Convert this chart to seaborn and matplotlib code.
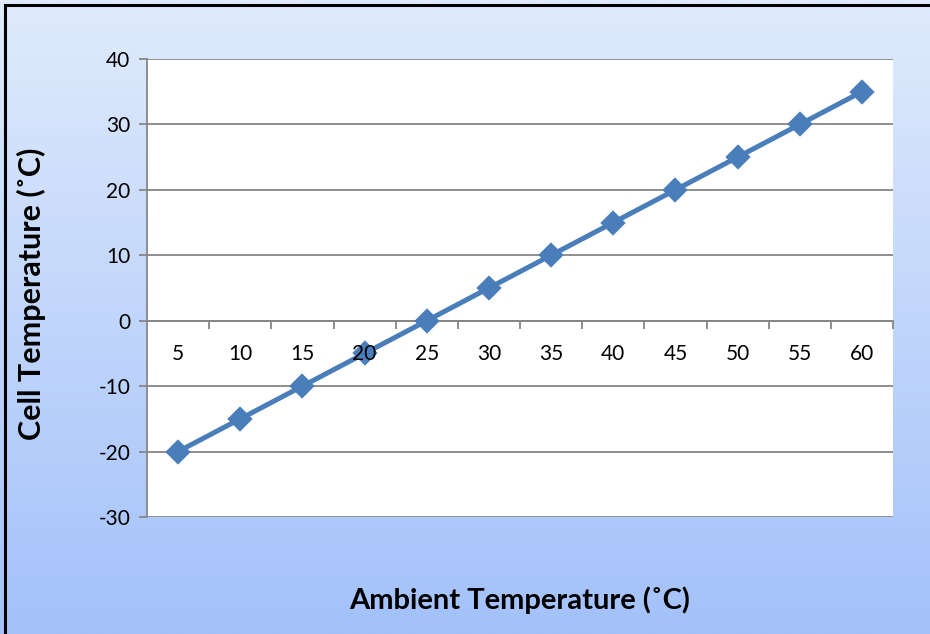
import numpy as np
import pandas as pd
import matplotlib
matplotlib.use("Agg")
import matplotlib.pyplot as plt
import seaborn as sns
from matplotlib.patches import Rectangle
from matplotlib.colors import LinearSegmentedColormap

ambient = ["5", "10", "15", "20", "25", "30", "35", "40", "45", "50", "55", "60"]
cell = [-20, -15, -10, -5, 0, 5, 10, 15, 20, 25, 30, 35]
y_ticks = [-30, -20, -10, 0, 10, 20, 30, 40]

sns.set_theme(style="white")
plt.rcParams["font.family"] = ["Lato", "DejaVu Sans"]
plt.rcParams["text.color"] = "black"

W, H = 930, 634
fig = plt.figure(figsize=(W / 100, H / 100), dpi=100)

# gradient background
bg = fig.add_axes([0, 0, 1, 1], zorder=0)
cmap = LinearSegmentedColormap.from_list("bg", ["#E0EBFC", "#A3C1FA"])
grad = np.linspace(0, 1, 256).reshape(-1, 1)
bg.imshow(grad, aspect="auto", cmap=cmap, extent=[0, 1, 0, 1], origin="upper")
bg.set_xlim(0, 1)
bg.set_ylim(0, 1)
bg.axis("off")
bg.add_patch(Rectangle((5 / W, -0.1), 1.2, 1 - 5 / H + 0.1, fill=False,
                       edgecolor="black", linewidth=2.2, transform=bg.transAxes))

ax = fig.add_axes([147 / W, 1 - 517 / H, (893 - 147) / W, (517 - 59) / H], zorder=1)
ax.set_facecolor("white")

df = pd.DataFrame({"Ambient": pd.Categorical(ambient, categories=ambient), "Cell": cell})
sns.pointplot(data=df, x="Ambient", y="Cell", ax=ax, color="#4A7EBB",
              markers="D", markersize=10.5, linewidth=3.6, errorbar=None)
for ln in ax.lines:
    ln.set_zorder(2)

ax.set_xlim(-0.5, len(ambient) - 0.5)
ax.set_ylim(-30, 40)
ax.set_yticks(y_ticks)
ax.set_yticklabels([str(v) for v in y_ticks], fontsize=15)
ax.yaxis.grid(True, color="#868686", linewidth=1.3)
ax.xaxis.grid(False)
ax.set_axisbelow(True)

for s in ["top", "right"]:
    ax.spines[s].set_visible(False)
ax.spines["left"].set_color("#868686")
ax.spines["left"].set_linewidth(1.3)
ax.spines["bottom"].set_position(("data", 0))
ax.spines["bottom"].set_color("#868686")
ax.spines["bottom"].set_linewidth(1.3)
ax.spines["bottom"].set_zorder(1.5)

ax.tick_params(axis="y", which="major", left=True, length=6, width=1.3,
               color="#868686", pad=6, labelcolor="black")
ax.set_xticks(range(len(ambient)))
ax.set_xticklabels(ambient, fontsize=15)
ax.set_xticks(np.arange(0.5, len(ambient), 1), minor=True)
ax.tick_params(axis="x", which="major", bottom=True, length=0, pad=17, labelcolor="black")
ax.tick_params(axis="x", which="minor", bottom=True, length=6, width=1.3, color="#868686")
ax.xaxis.set_zorder(3)

ax.set_xlabel("")
ax.set_ylabel("")
fig.text((147 + 893) / 2 / W, 1 - 600 / H, "Ambient Temperature (˚C)", ha="center",
         va="center", fontsize=21, fontweight="bold", color="black")
fig.text(31 / W, 1 - 294 / H, "Cell Temperature (˚C)", ha="center", va="center",
         rotation=90, fontsize=22, fontweight="bold", color="black")

fig.savefig("out.png", dpi=100)
